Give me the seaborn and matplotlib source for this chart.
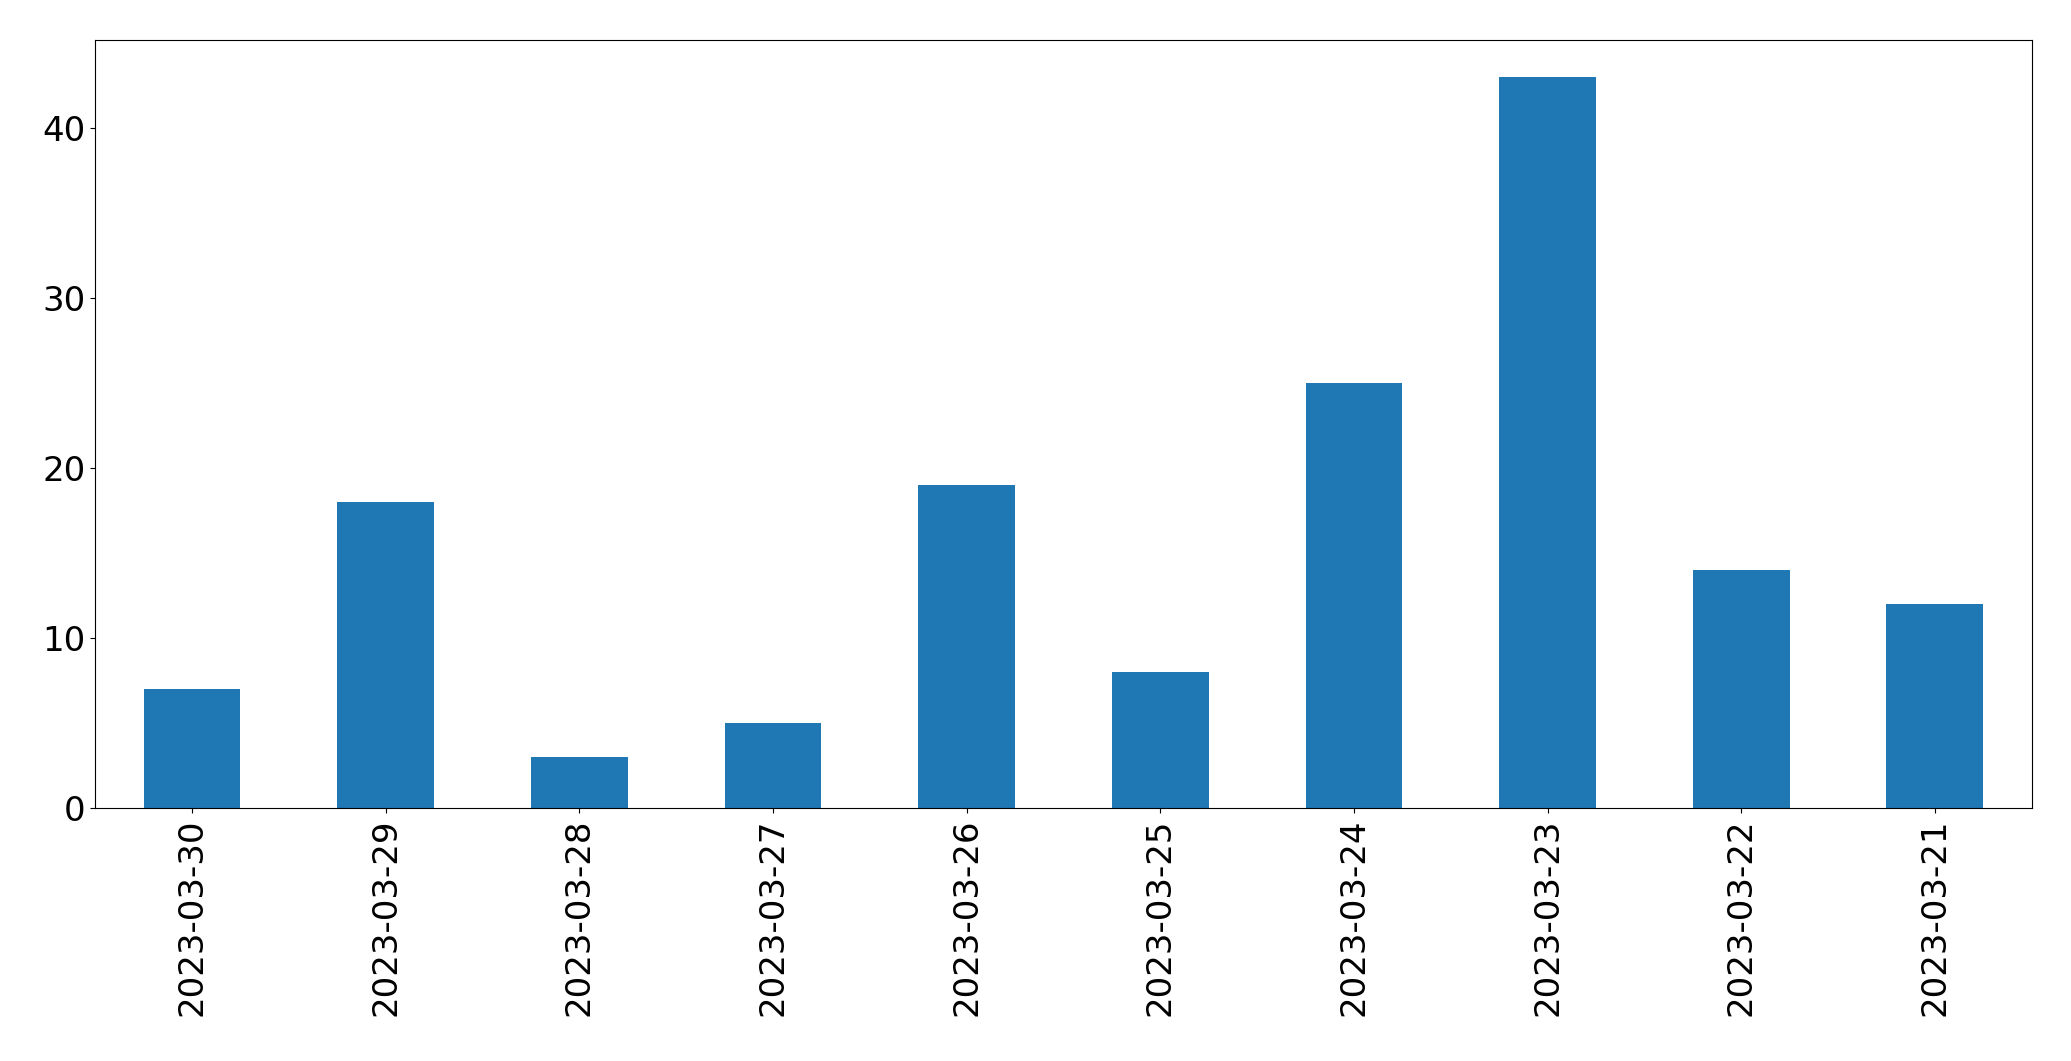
import pandas as pd
import matplotlib
matplotlib.use("Agg")
import matplotlib.pyplot as plt
import seaborn as sns

# dates as shown on the x axis (newest first)
dates = ["2023-03-30", "2023-03-29", "2023-03-28", "2023-03-27", "2023-03-26",
         "2023-03-25", "2023-03-24", "2023-03-23", "2023-03-22", "2023-03-21"]
counts = [7, 18, 3, 5, 19, 8, 25, 43, 14, 12]

df = pd.DataFrame({"date": dates, "count": counts})

fig, ax = plt.subplots(figsize=(20.71, 10.61), dpi=100)
sns.barplot(data=df, x="date", y="count", color="#1f77b4", saturation=1,
            width=0.5, ax=ax)
ax.set_xlabel("")
ax.set_ylabel("")
ax.set_xlim(-0.5, len(dates) - 0.5)
ax.tick_params(axis="both", labelsize=24.5)
plt.setp(ax.get_xticklabels(), rotation=90)
fig.subplots_adjust(left=0.046, right=0.981, top=0.962, bottom=0.238)
fig.savefig("out.png", dpi=100)
